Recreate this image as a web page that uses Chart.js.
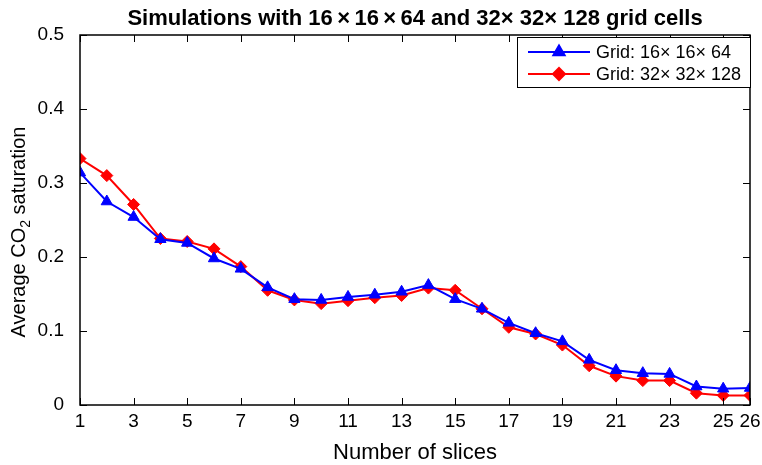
<!DOCTYPE html>
<html>
<head>
<meta charset="utf-8">
<script src="https://cdn.jsdelivr.net/npm/chart.js@4.4.1/dist/chart.umd.min.js"></script>
<style>
  html, body { margin: 0; padding: 0; background: #fff; }
  #wrap { width: 762px; height: 465px; position: relative; }
</style>
</head>
<body>
<div id="wrap"><canvas id="c" width="762" height="465"></canvas></div>
<script>
// Number of slices (x) and average CO2 saturation for the two grid resolutions
const slices = [1,2,3,4,5,6,7,8,9,10,11,12,13,14,15,16,17,18,19,20,21,22,23,24,25,26];
const coarseGrid = [0.314,0.275,0.254,0.224,0.219,0.198,0.184,0.159,0.143,0.142,0.146,0.149,0.153,0.162,0.143,0.130,0.111,0.097,0.086,0.061,0.047,0.043,0.042,0.025,0.022,0.023];
const fineGrid   = [0.333,0.310,0.271,0.225,0.221,0.211,0.187,0.155,0.142,0.137,0.141,0.145,0.148,0.158,0.155,0.130,0.105,0.096,0.081,0.053,0.039,0.033,0.033,0.016,0.013,0.013];
const xTickValues = [1,3,5,7,9,11,13,15,17,19,21,23,25,26];
const yTickValues = [0,0.1,0.2,0.3,0.4,0.5];
const seriesNames = ['Grid: 16\u00d7 16\u00d7 64', 'Grid: 32\u00d7 32\u00d7 128'];
const titleText = 'Simulations with 16\u2009\u00d7\u200916\u2009\u00d7\u200964 and 32\u00d7 32\u00d7 128 grid cells';
const xTitle = 'Number of slices';
const yTitleParts = ['Average CO', '2', ' saturation'];

const FONT = '"Liberation Sans", Arial, Helvetica, sans-serif';

const toPoints = (ys) => ys.map((y, i) => ({ x: slices[i], y }));

// Box, inward tick marks, titles and legend drawn on top of the plot
const framePlugin = {
  id: 'frame',
  afterDatasetsDraw(chart) {
    const { ctx, chartArea: a, scales } = chart;
    ctx.save();
    ctx.strokeStyle = '#000';
    ctx.lineWidth = 1;
    ctx.beginPath();
    const tl = 7;
    xTickValues.forEach(v => {
      const px = Math.round(scales.x.getPixelForValue(v)) + 0.5;
      ctx.moveTo(px, a.bottom); ctx.lineTo(px, a.bottom - tl);
      ctx.moveTo(px, a.top); ctx.lineTo(px, a.top + tl);
    });
    yTickValues.forEach(v => {
      const py = Math.round(scales.y.getPixelForValue(v)) + 0.5;
      ctx.moveTo(a.left, py); ctx.lineTo(a.left + tl, py);
      ctx.moveTo(a.right, py); ctx.lineTo(a.right - tl, py);
    });
    ctx.stroke();
    ctx.lineWidth = 1.5;
    ctx.strokeRect(a.left, a.top, a.right - a.left, a.bottom - a.top);

    // title
    ctx.fillStyle = '#000';
    ctx.font = 'bold 22px ' + FONT;
    ctx.textAlign = 'center';
    ctx.textBaseline = 'alphabetic';
    ctx.fillText(titleText, (a.left + a.right) / 2, 25);

    // x-axis title
    ctx.font = '22px ' + FONT;
    ctx.fillText(xTitle, (a.left + a.right) / 2, 459);

    // y-axis title with subscript
    ctx.save();
    ctx.translate(25, 232);
    ctx.rotate(-Math.PI / 2);
    ctx.textAlign = 'left';
    const big = '20px ' + FONT, small = '14px ' + FONT;
    ctx.font = big;
    const w0 = ctx.measureText(yTitleParts[0]).width;
    const w2 = ctx.measureText(yTitleParts[2]).width;
    ctx.font = small;
    const w1 = ctx.measureText(yTitleParts[1]).width;
    let x0 = -(w0 + w1 + w2) / 2;
    ctx.font = big;
    ctx.fillText(yTitleParts[0], x0, 0);
    ctx.font = small;
    ctx.fillText(yTitleParts[1], x0 + w0, 5);
    ctx.font = big;
    ctx.fillText(yTitleParts[2], x0 + w0 + w1, 0);
    ctx.restore();

    // legend
    const lx = 517, ly = 37, lw = 233, lh = 50;
    ctx.fillStyle = '#fff';
    ctx.fillRect(lx, ly, lw, lh);
    ctx.lineWidth = 1;
    ctx.strokeStyle = '#000';
    ctx.strokeRect(lx + 0.5, ly + 0.5, lw, lh);
    const rows = [52, 74];
    chart.data.datasets.forEach((d, i) => {
      const y = rows[i];
      ctx.strokeStyle = d.borderColor;
      ctx.lineWidth = 2;
      ctx.beginPath();
      ctx.moveTo(528, y); ctx.lineTo(590, y);
      ctx.stroke();
      Chart.helpers.drawPoint(ctx, {
        pointStyle: d.pointStyle, radius: d.pointRadius, rotation: 0, borderWidth: 1
      }, 559, y);
      ctx.fillStyle = d.borderColor;
      ctx.fill();
      ctx.fillStyle = '#000';
      ctx.font = '18px ' + FONT;
      ctx.textAlign = 'left';
      ctx.textBaseline = 'middle';
      ctx.fillText(seriesNames[i], 596, y + 1);
    });
    ctx.restore();
  }
};

new Chart(document.getElementById('c'), {
  type: 'line',
  data: {
    datasets: [
      {
        label: seriesNames[0],
        data: toPoints(coarseGrid),
        borderColor: '#0000ff',
        backgroundColor: '#0000ff',
        borderWidth: 2,
        pointStyle: 'triangle',
        pointRadius: 6.5,
        pointBorderWidth: 1,
        tension: 0
      },
      {
        label: seriesNames[1],
        data: toPoints(fineGrid),
        borderColor: '#ff0000',
        backgroundColor: '#ff0000',
        borderWidth: 2,
        pointStyle: 'rectRot',
        pointRadius: 6,
        pointBorderWidth: 1,
        tension: 0
      }
    ]
  },
  options: {
    responsive: false,
    animation: false,
    layout: { padding: { left: 0, right: 12, top: 35, bottom: 0 } },
    plugins: {
      legend: { display: false },
      title: { display: false },
      tooltip: { enabled: false }
    },
    scales: {
      x: {
        type: 'linear',
        min: 1, max: 26,
        afterBuildTicks: (s) => { s.ticks = xTickValues.map(v => ({ value: v })); },
        afterFit: (s) => { s.height = 60; },
        grid: { display: false },
        border: { display: false },
        ticks: { color: '#000', font: { family: FONT, size: 19 }, padding: -3, maxRotation: 0, autoSkip: false }
      },
      y: {
        min: 0, max: 0.5,
        afterBuildTicks: (s) => { s.ticks = yTickValues.map(v => ({ value: v })); },
        afterFit: (s) => { s.width = 80; },
        grid: { display: false },
        border: { display: false },
        ticks: { color: '#000', font: { family: FONT, size: 19 }, padding: 8 }
      }
    }
  },
  plugins: [framePlugin]
});
</script>
</body>
</html>
